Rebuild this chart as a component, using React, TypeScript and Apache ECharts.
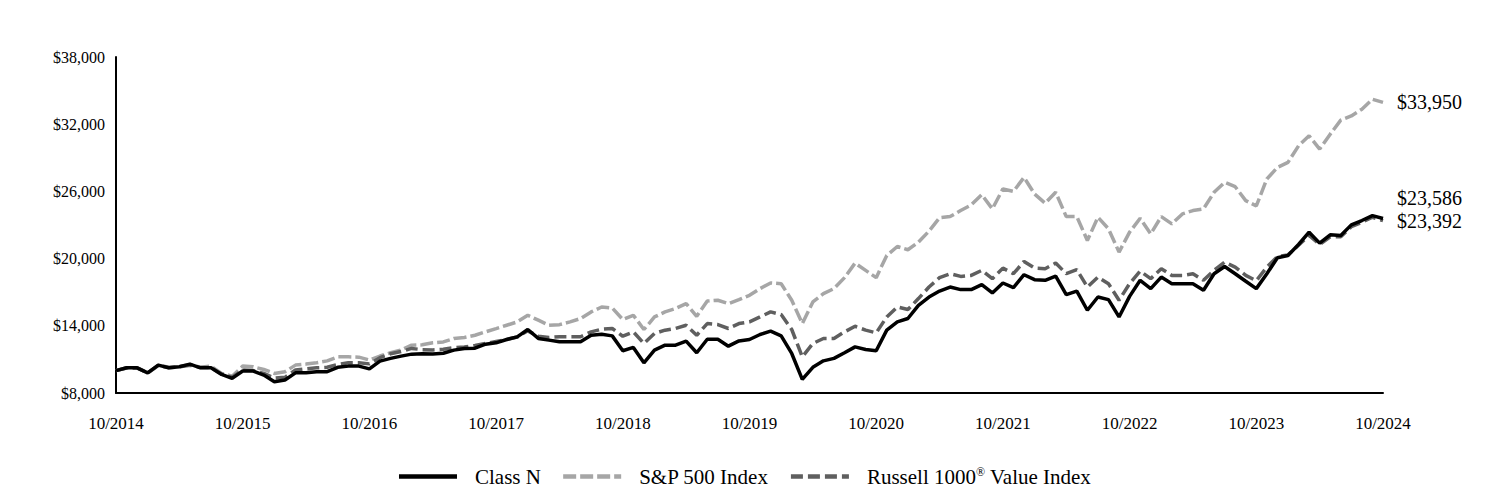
import React, { useEffect, useRef } from "react";
import * as echarts from "echarts";

const START_MONTH = 10;
const START_YEAR = 2014;
const MONTHS = 121;
const categories: string[] = [];
for (let i = 0; i < MONTHS; i++) {
  const m = ((START_MONTH - 1 + i) % 12) + 1;
  const y = START_YEAR + Math.floor((START_MONTH - 1 + i) / 12);
  categories.push(`${m}/${y}`);
}

const seriesNames = ["Class N", "S&P 500 Index", "Russell 1000® Value Index"];

const classN = [
  10000, 10250, 10250, 9800, 10490, 10250, 10340, 10580, 10250, 10250,
  9660, 9310, 9960, 9960, 9600, 9000, 9160, 9800, 9800, 9900,
  9900, 10290, 10400, 10400, 10150, 10850, 11090, 11290, 11470, 11500,
  11480, 11550, 11830, 11980, 12000, 12360, 12480, 12780, 13010, 13670,
  12870, 12720, 12570, 12570, 12570, 13160, 13250, 13100, 11770, 12070,
  10700, 11830, 12270, 12270, 12630, 11590, 12800, 12800, 12180, 12650,
  12780, 13220, 13520, 13100, 11530, 9220, 10290, 10870, 11090, 11590,
  12120, 11890, 11770, 13610, 14350, 14650, 15830, 16570, 17100, 17460,
  17230, 17230, 17670, 16930, 17820, 17410, 18560, 18120, 18060, 18440,
  16780, 17100, 15390, 16570, 16340, 14790, 16630, 18060, 17320, 18350,
  17760, 17760, 17760, 17170, 18650, 19300, 18650, 17980, 17320, 18650,
  20080, 20280, 21260, 22360, 21380, 22120, 22060, 23010, 23400, 23840,
  23586,
];

const sp500 = [
  10000, 10250, 10240, 9800, 10490, 10300, 10370, 10550, 10300, 10400,
  9750, 9500, 10400, 10340, 10100, 9750, 9900, 10490, 10580, 10700,
  10870, 11230, 11230, 11200, 10950, 11300, 11590, 11830, 12270, 12300,
  12480, 12560, 12870, 12960, 13160, 13460, 13750, 14050, 14350, 14940,
  14500, 14050, 14100, 14350, 14650, 15240, 15680, 15590, 14560, 14940,
  13670, 14790, 15240, 15540, 15980, 14850, 16210, 16280, 15980, 16340,
  16720, 17320, 17820, 17760, 16280, 14200, 16130, 16870, 17320, 18300,
  19600, 18950, 18300, 20280, 21080, 20790, 21470, 22450, 23640, 23750,
  24290, 24790, 25710, 24440, 26220, 26000, 27250, 25770, 24940, 25920,
  23750, 23750, 21620, 23690, 22660, 20580, 22360, 23600, 22210, 23750,
  23100, 23990, 24290, 24440, 25920, 26810, 26420, 25180, 24700, 27110,
  28140, 28590, 30070, 30960, 29780, 31110, 32360, 32740, 33340, 34230,
  33950,
];

const russell = [
  10000, 10230, 10240, 9790, 10450, 10250, 10340, 10480, 10280, 10270,
  9690, 9410, 10050, 10000, 9750, 9330, 9400, 10050, 10150, 10250,
  10300, 10550, 10700, 10700, 10600, 11150, 11500, 11700, 11980, 11870,
  11850, 11900, 12050, 12100, 12250, 12420, 12600, 12780, 13000, 13550,
  13070, 12960, 13020, 13020, 13020, 13460, 13700, 13760, 13070, 13460,
  12420, 13310, 13610, 13760, 14050, 13160, 14200, 14110, 13760, 14200,
  14350, 14790, 15240, 15000, 13670, 11230, 12420, 12870, 12870, 13460,
  13960, 13610, 13370, 14790, 15680, 15450, 16430, 17460, 18300, 18650,
  18410, 18500, 18950, 18210, 19150, 18650, 19750, 19150, 19100, 19600,
  18650, 19010, 17460, 18350, 17760, 16280, 17760, 18880, 18210, 19100,
  18500, 18500, 18650, 18060, 18950, 19690, 19240, 18500, 18030, 19240,
  20170, 20330, 21190, 22060, 21270, 21950, 21950, 22850, 23250, 23690,
  23392,
];

const FONT = "'Liberation Serif', 'Times New Roman', serif";
const fmt = (v: number) => "$" + Math.round(v).toLocaleString("en-US");

export default function App() {
  const ref = useRef<HTMLDivElement>(null);
  useEffect(() => {
    if (!ref.current) return;
    const chart = echarts.init(ref.current, null, { renderer: "svg" });
    const endLabel = (offsetY: number) => ({
      show: true,
      formatter: (p: any) => fmt(p.value),
      color: "#000",
      fontFamily: FONT,
      fontSize: 20,
      distance: 14,
      offset: [0, offsetY],
    });
    chart.setOption({
      animation: false,
      backgroundColor: "#fff",
      grid: {
        left: 116,
        right: 105,
        top: 57,
        bottom: 99,
        containLabel: false,
        outerBoundsMode: "none",
      },
      legend: {
        data: seriesNames,
        top: 461,
        left: "center",
        itemWidth: 58,
        itemHeight: 14,
        itemGap: 20,
        itemStyle: { opacity: 0 },
        lineStyle: { width: 4.5 },
        textStyle: {
          fontFamily: FONT,
          fontSize: 21,
          color: "#000",
          padding: [0, 0, 0, 13],
          rich: {
            sup: { fontSize: 12, verticalAlign: "top", padding: [0, 0, 9, 0], fontFamily: FONT, color: "#000" },
          },
        },
        formatter: (name: string) => name.replace("®", "{sup|®}"),
      },
      xAxis: {
        type: "category",
        data: categories,
        boundaryGap: false,
        axisLine: { show: true, lineStyle: { color: "#000", width: 2 } },
        axisTick: { show: false },
        axisLabel: {
          interval: 11,
          color: "#000",
          fontFamily: FONT,
          fontSize: 17,
          margin: 22,
          formatter: (v: string) => v,
        },
        splitLine: { show: false },
      },
      yAxis: {
        type: "value",
        min: 8000,
        max: 38000,
        interval: 6000,
        axisLine: { show: true, lineStyle: { color: "#000", width: 2 } },
        axisTick: { show: false },
        splitLine: { show: false },
        axisLabel: {
          color: "#000",
          fontFamily: FONT,
          fontSize: 16,
          margin: 11,
          formatter: (v: number) => fmt(v),
        },
      },
      series: [
        {
          name: seriesNames[1],
          type: "line",
          data: sp500,
          symbol: "none",
          lineStyle: { color: "#a6a6a6", width: 3.5, type: [13, 4] },
          itemStyle: { color: "#a6a6a6" },
          endLabel: endLabel(0),
        },
        {
          name: seriesNames[2],
          type: "line",
          data: russell,
          symbol: "none",
          lineStyle: { color: "#5f5f5f", width: 3.5, type: [12, 5] },
          itemStyle: { color: "#5f5f5f" },
          endLabel: endLabel(0),
        },
        {
          name: seriesNames[0],
          type: "line",
          data: classN,
          symbol: "none",
          lineStyle: { color: "#000", width: 3.5 },
          itemStyle: { color: "#000" },
          endLabel: endLabel(-20),
        },
      ],
    });
    return () => chart.dispose();
  }, []);
  return (
    <div
      ref={ref}
      style={{ position: "fixed", left: 0, top: 0, width: 1488, height: 492, background: "#fff" }}
    />
  );
}
